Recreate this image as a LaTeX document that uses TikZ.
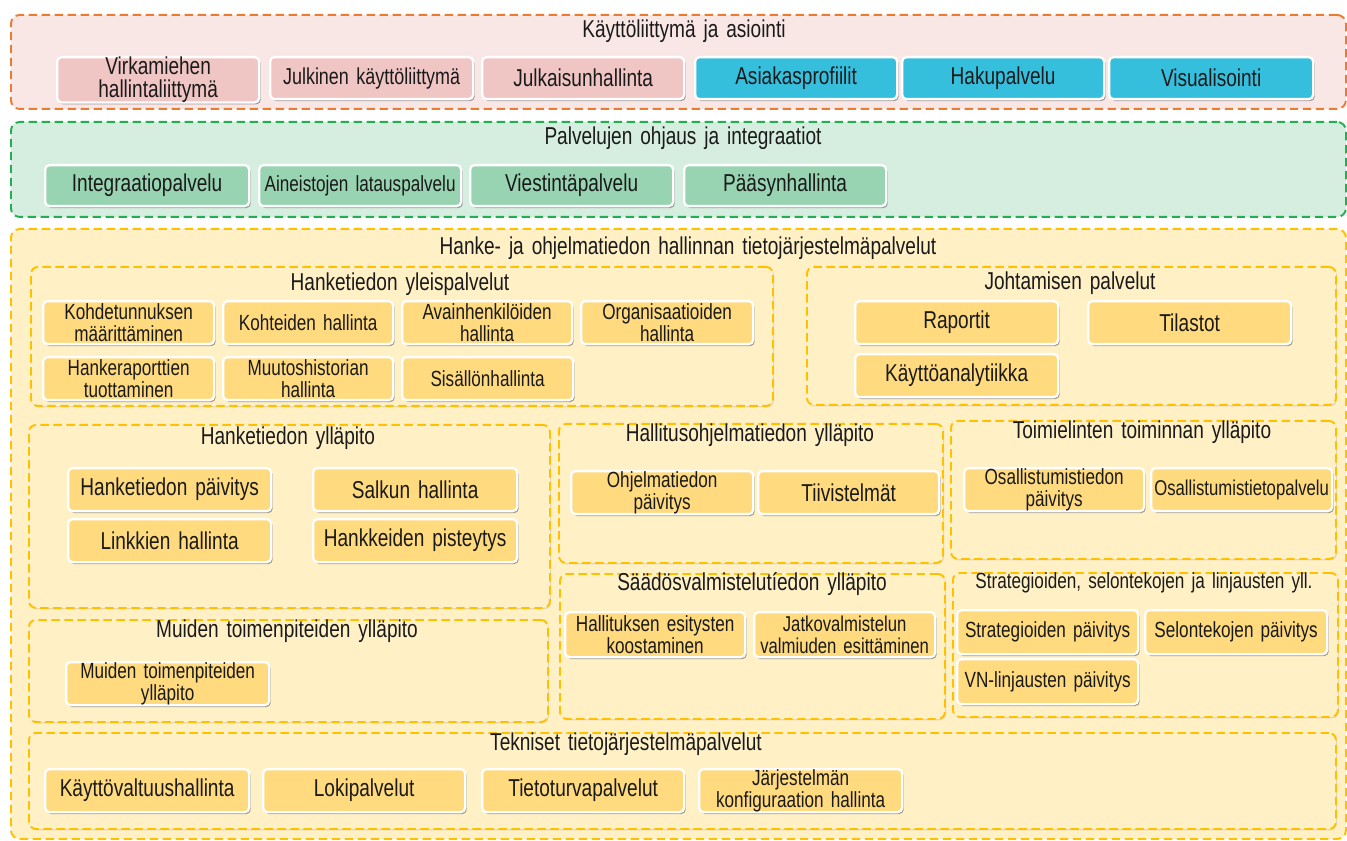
\documentclass[tikz,border=0pt]{standalone}
\usepackage{fontspec}
\setmainfont{Liberation Sans}[FakeStretch=0.78, WordSpace=1.5]
\usetikzlibrary{shadows}
\definecolor{pinkfill}{HTML}{F9E7E5}
\definecolor{pinkbox}{HTML}{F0C6C5}
\definecolor{orangeline}{HTML}{E97C30}
\definecolor{greenfill}{HTML}{D5EEDF}
\definecolor{greenbox}{HTML}{98D4B1}
\definecolor{greenline}{HTML}{20B050}
\definecolor{yellowfill}{HTML}{FFF0C5}
\definecolor{yellowbox}{HTML}{FFDA7E}
\definecolor{yellowline}{HTML}{FFC000}
\definecolor{bluebox}{HTML}{36BFDD}
\definecolor{txt}{HTML}{1A1A1A}
\newcommand\fsA{\fontsize{13.9}{12.8}\selectfont}
\newcommand\fsB{\fontsize{12.5}{12.3}\selectfont}
\newcommand\fsC{\fontsize{12.2}{12.2}\selectfont}
\newcommand\bx[7]{\node[#6, anchor=north west, minimum width={(#4-#2)*0.02cm}, minimum height={(#5-#3)*0.02cm}] (#1) at (#2,#3) {#7};}
\tikzset{
  outer/.style={draw, fill, dash pattern=on 4.8pt off 2.6pt, line width=1.1pt, rounded corners=5pt, inner sep=0pt},
  grp/.style={draw=yellowline, fill=yellowfill, dash pattern=on 4.8pt off 2.6pt, line width=1.1pt, rounded corners=4pt, inner sep=0pt,
    drop shadow={shadow xshift=0.6pt, shadow yshift=-0.8pt, opacity=0.22}},
  bx/.style={draw=white, line width=1.3pt, rounded corners=2.5pt, inner sep=0pt, align=center, text=txt, font=\fsA,
    drop shadow={shadow xshift=0.9pt, shadow yshift=-1.1pt, opacity=0.5, fill=black!70}},
  two/.style={font=\fsB},
  pk/.style={fill=pinkbox},
  bl/.style={fill=bluebox},
  gr/.style={fill=greenbox},
  yl/.style={fill=yellowbox},
  ttl/.style={text=txt, font=\fsA, inner sep=0pt},
  ttlb/.style={text=txt, font=\fsB, inner sep=0pt}
}
\begin{document}
\begin{tikzpicture}[x=0.02cm, y=-0.02cm]
\useasboundingbox (0,0) rectangle (1347,841);
% outer areas
\bx{ui}{10}{14}{1345}{108}{outer, draw=orangeline, fill=pinkfill}{}
\bx{ctl}{10}{121}{1345}{216}{outer, draw=greenline, fill=greenfill}{}
\bx{hanke}{10}{228}{1345}{838}{outer, draw=yellowline, fill=yellowfill}{}
% sub groups
\bx{g1}{30}{266}{772}{405}{grp}{}
\bx{g2}{806}{266}{1335}{404}{grp}{}
\bx{g3}{28}{424}{549}{607}{grp}{}
\bx{g4}{28}{619}{547}{721}{grp}{}
\bx{g5}{558}{423}{942}{562}{grp}{}
\bx{g6}{559}{573}{944}{718}{grp}{}
\bx{g7}{950}{420}{1335}{558}{grp}{}
\bx{g8}{952}{572}{1337}{716}{grp}{}
\bx{g9}{28}{732}{1335}{828}{grp}{}
% titles
\node[ttl] (t1) at (684,31) {Käyttöliittymä ja asiointi};
\node[ttl] (t2) at (683,138) {Palvelujen ohjaus ja integraatiot};
\node[ttl] (t3) at (688,248) {Hanke- ja ohjelmatiedon hallinnan tietojärjestelmäpalvelut};
\node[ttl] (t4) at (400,284) {Hanketiedon yleispalvelut};
\node[ttl] (t5) at (1070,283) {Johtamisen palvelut};
\node[ttl] (t6) at (288,438) {Hanketiedon ylläpito};
\node[ttl] (t7) at (287,631) {Muiden toimenpiteiden ylläpito};
\node[ttl] (t8) at (750,435) {Hallitusohjelmatiedon ylläpito};
\node[ttl] (t9) at (752,584) {Säädösvalmistelutíedon ylläpito};
\node[ttl] (t10) at (1142,432) {Toimielinten toiminnan ylläpito};
\node[ttlb] (t11) at (1144,583) {Strategioiden, selontekojen ja linjausten yll.};
\node[ttl] (t12) at (626,744) {Tekniset tietojärjestelmäpalvelut};
% UI row
\bx{virk}{56}{56}{258}{98}{bx,pk}{Virkamiehen\\hallintaliittymä}
\bx{julk}{269}{56}{472}{98}{bx,pk,font=\fontsize{13.1}{13}\selectfont}{Julkinen käyttöliittymä}
\bx{julkh}{481}{56}{683}{98}{bx,pk}{Julkaisunhallinta}
\bx{asiak}{694}{56}{896}{98}{bx,bl}{Asiakasprofiilit}
\bx{haku}{901}{56}{1103}{98}{bx,bl}{Hakupalvelu}
\bx{visu}{1108}{56}{1312}{98}{bx,bl}{Visualisointi}
% control row
\bx{integ}{44}{164}{248}{205}{bx,gr}{Integraatiopalvelu}
\bx{ainei}{258}{164}{460}{205}{bx,gr,two}{Aineistojen latauspalvelu}
\bx{viest}{469}{164}{672}{205}{bx,gr}{Viestintäpalvelu}
\bx{paasy}{683}{164}{885}{205}{bx,gr}{Pääsynhallinta}
% yleispalvelut
\bx{kohdet}{42}{300}{213}{343}{bx,yl,two}{Kohdetunnuksen\\määrittäminen}
\bx{kohteid}{222}{300}{392}{343}{bx,yl,two}{Kohteiden hallinta}
\bx{avain}{401}{300}{571}{343}{bx,yl,two}{Avainhenkilöiden\\hallinta}
\bx{organ}{580}{300}{752}{343}{bx,yl,two}{Organisaatioiden\\hallinta}
\bx{hanker}{42}{356}{213}{399}{bx,yl,two}{Hankeraporttien\\tuottaminen}
\bx{muutos}{222}{356}{392}{399}{bx,yl,two}{Muutoshistorian\\hallinta}
\bx{sisal}{401}{356}{572}{399}{bx,yl,two}{Sisällönhallinta}
% johtamisen
\bx{rap}{854}{300}{1057}{343}{bx,yl}{Raportit}
\bx{tila}{1087}{300}{1290}{343}{bx,yl}{Tilastot}
\bx{kayt}{854}{353}{1057}{396}{bx,yl}{Käyttöanalytiikka}
% hanketiedon ylläpito
\bx{hpaiv}{67}{467}{270}{510}{bx,yl}{Hanketiedon päivitys}
\bx{salk}{312}{467}{516}{510}{bx,yl}{Salkun hallinta}
\bx{linkk}{67}{518}{270}{561}{bx,yl}{Linkkien hallinta}
\bx{pist}{312}{518}{516}{561}{bx,yl}{Hankkeiden pisteytys}
% muiden
\bx{muidb}{65}{661}{268}{704}{bx,yl,two}{Muiden toimenpiteiden\\ylläpito}
% hallitusohjelma
\bx{ohjp}{570}{470}{752}{513}{bx,yl,two}{Ohjelmatiedon\\päivitys}
\bx{tiiv}{757}{470}{938}{513}{bx,yl}{Tiivistelmät}
% säädös
\bx{hallesit}{564}{611}{744}{656}{bx,yl,two}{Hallituksen esitysten\\koostaminen}
\bx{jatko}{753}{611}{934}{656}{bx,yl,font=\fsC}{Jatkovalmistelun\\valmiuden esittäminen}
% toimielinten
\bx{osallp}{963}{467}{1143}{510}{bx,yl,two}{Osallistumistiedon\\päivitys}
\bx{osallt}{1150}{467}{1331}{510}{bx,yl,font=\fsC}{Osallistumistietopalvelu}
% strategioiden
\bx{strp}{956}{609}{1137}{653}{bx,yl,two}{Strategioiden päivitys}
\bx{selp}{1144}{609}{1326}{653}{bx,yl,two}{Selontekojen päivitys}
\bx{vnp}{956}{658}{1137}{703}{bx,yl,two}{VN-linjausten päivitys}
% tekniset
\bx{kvh}{44}{768}{248}{811}{bx,yl}{Käyttövaltuushallinta}
\bx{lok}{262}{768}{464}{811}{bx,yl}{Lokipalvelut}
\bx{tiet}{481}{768}{683}{811}{bx,yl}{Tietoturvapalvelut}
\bx{jarj}{698}{768}{901}{811}{bx,yl,two}{Järjestelmän\\konfiguraation hallinta}
\end{tikzpicture}
\end{document}
